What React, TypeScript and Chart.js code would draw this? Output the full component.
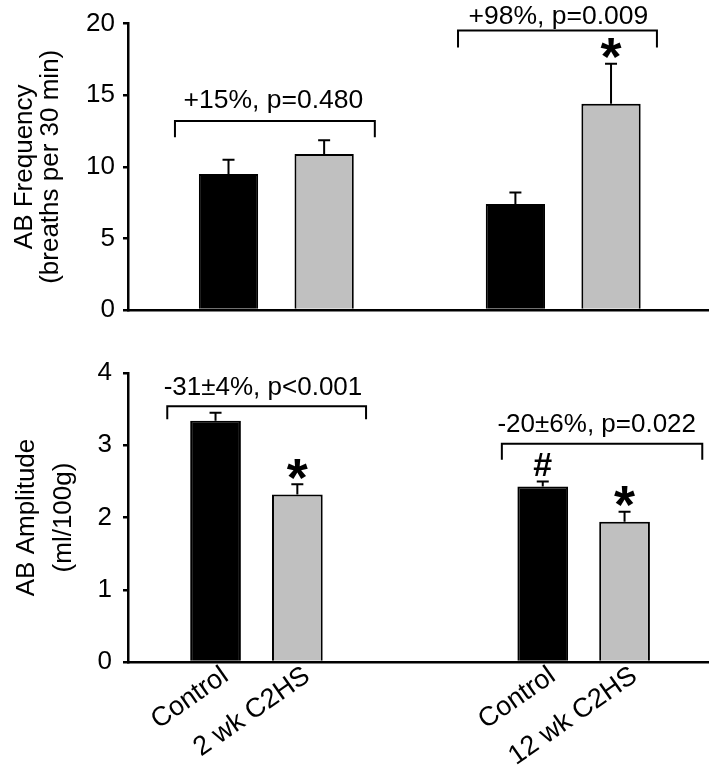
import React, { useEffect, useRef } from "react";
import { Chart, registerables } from "chart.js";

Chart.register(...registerables);

// ---------- data ----------
const groups = ["Control", "2 wk C2HS", "Control", "12 wk C2HS"];
const freqSlots = [1, 2, 4, 5];
const ampSlots = [1, 2, 5, 6];
const freqMeans = [9.5, 10.9, 7.4, 14.4];
const freqErrors = [1.0, 0.95, 0.8, 2.8];
const ampMeans = [3.34, 2.32, 2.43, 1.94];
const ampErrors = [0.11, 0.14, 0.07, 0.14];
const freqTicks = [0, 5, 10, 15, 20];
const ampTicks = [0, 1, 2, 3, 4];
const freqTitle = ["AB Frequency", "(breaths per 30 min)"];
const ampTitle = ["AB Amplitude", "(ml/100g)"];
const freqComparisons = ["+15%, p=0.480", "+98%, p=0.009"];
const ampComparisons = ["-31\u00b14%, p<0.001", "-20\u00b16%, p=0.022"];
const freqMarks = ["", "", "", "*"];
const ampMarks = ["", "*", "#", "*"];
const barColors = ["#000000", "#c0c0c0", "#000000", "#c0c0c0"];

// bracket geometry (data units)
const freqBrackets = [
  { x0: 0.44, x1: 2.53, y: 13.2, legY: 12.06, textX: 1.47, textY: 14.77 },
  { x0: 3.4, x1: 5.48, y: 19.51, legY: 18.33, textX: 4.45, textY: 20.66 },
];
const ampBrackets = [
  { x0: 0.41, x1: 2.84, y: 3.54, legY: 3.36, textX: 1.58, textY: 3.83 },
  { x0: 4.5, x1: 6.95, y: 3.02, legY: 2.8, textX: 5.66, textY: 3.31 },
];

const FONT = "'Liberation Sans', Arial, Helvetica, sans-serif";
Chart.defaults.font.family = FONT;
Chart.defaults.color = "#000";

const annotate = {
  id: "annotate",
  afterDatasetsDraw(chart: any, _args: any, opts: any) {
    const { ctx } = chart;
    const xs = chart.scales.x;
    const ys = chart.scales.y;
    const meta = chart.getDatasetMeta(0);
    ctx.save();
    ctx.strokeStyle = "#000";
    ctx.fillStyle = "#000";
    ctx.lineWidth = 2;
    // error bars + marks
    opts.means.forEach((m: number, i: number) => {
      const bar = meta.data[i];
      const top = ys.getPixelForValue(m + opts.errors[i]);
      ctx.beginPath();
      ctx.moveTo(bar.x, bar.y);
      ctx.lineTo(bar.x, top);
      ctx.moveTo(bar.x - 6, top);
      ctx.lineTo(bar.x + 6, top);
      ctx.stroke();
      const mark = opts.marks[i];
      if (mark === "*") {
        const size = 54;
        ctx.font = `bold ${size}px ${FONT}`;
        ctx.textAlign = "center";
        ctx.textBaseline = "alphabetic";
        ctx.fillText("*", bar.x, top - 13 + 0.455 * size);
      } else if (mark === "#") {
        const size = 34;
        ctx.font = `bold ${size}px ${FONT}`;
        ctx.textAlign = "center";
        ctx.textBaseline = "alphabetic";
        ctx.fillText("#", bar.x, top - 18 + 0.36 * size);
      }
    });
    // brackets
    opts.brackets.forEach((b: any, i: number) => {
      const x0 = xs.getPixelForValue(b.x0);
      const x1 = xs.getPixelForValue(b.x1);
      const y = ys.getPixelForValue(b.y);
      const ly = ys.getPixelForValue(b.legY);
      ctx.lineWidth = 2;
      ctx.beginPath();
      ctx.moveTo(x0, ly);
      ctx.lineTo(x0, y);
      ctx.lineTo(x1, y);
      ctx.lineTo(x1, ly);
      ctx.stroke();
      ctx.font = `${opts.textSize}px ${FONT}`;
      ctx.textAlign = "center";
      ctx.textBaseline = "alphabetic";
      ctx.fillText(
        opts.texts[i],
        xs.getPixelForValue(b.textX),
        ys.getPixelForValue(b.textY) + 0.358 * opts.textSize
      );
    });
    ctx.restore();
  },
};

function makeConfig(p: any): any {
  return {
    type: "bar",
    data: {
      datasets: [
        {
          data: p.slots.map((s: number, i: number) => ({ x: s, y: p.means[i] })),
          backgroundColor: barColors,
          borderColor: "#000",
          borderWidth: 2,
          barPercentage: 0.62,
          categoryPercentage: 1,
        },
      ],
    },
    options: {
      responsive: false,
      animation: false,
      events: [],
      layout: { padding: { top: p.padTop, right: 3, left: 0, bottom: 0 } },
      plugins: {
        legend: { display: false },
        tooltip: { enabled: false },
        annotate: {
          means: p.means,
          errors: p.errors,
          marks: p.marks,
          brackets: p.brackets,
          texts: p.texts,
          textSize: p.textSize,
        },
      },
      scales: {
        x: {
          type: "linear",
          offset: false,
          min: p.xMin,
          max: p.xMax,
          afterBuildTicks: (s: any) => {
            s.ticks = p.slots.map((v: number) => ({ value: v }));
          },
          afterFit: (s: any) => {
            s.height = p.xHeight;
          },
          grid: { display: false },
          border: { display: true, color: "#000", width: 2.5 },
          ticks: {
            display: p.showLabels,
            autoSkip: false,
            minRotation: 35,
            maxRotation: 35,
            padding: -10,
            labelOffset: 10,
            font: { size: 27 },
            color: "#000",
            callback: (v: number) => {
              const k = p.slots.indexOf(v);
              return k >= 0 ? groups[k] : "";
            },
          },
        },
        y: {
          min: 0,
          max: p.yTicks[p.yTicks.length - 1],
          afterBuildTicks: (s: any) => {
            s.ticks = p.yTicks.map((v: number) => ({ value: v }));
          },
          afterFit: (s: any) => {
            s.width = 128;
          },
          ticks: { padding: p.tickPad, font: { size: 26 }, color: "#000" },
          grid: {
            drawOnChartArea: false,
            drawTicks: true,
            tickLength: 5,
            color: "#000",
            lineWidth: 2.5,
          },
          border: { color: "#000", width: 2.5 },
          title: {
            display: true,
            text: p.title,
            color: "#000",
            font: { size: 26, lineHeight: p.titleLH },
            padding: { top: p.titlePad, bottom: 0 },
          },
        },
      },
    },
    plugins: [annotate],
  };
}

export default function App() {
  const topRef = useRef<HTMLCanvasElement>(null);
  const botRef = useRef<HTMLCanvasElement>(null);

  useEffect(() => {
    const top = new Chart(
      topRef.current as HTMLCanvasElement,
      makeConfig({
        slots: freqSlots,
        means: freqMeans,
        errors: freqErrors,
        marks: freqMarks,
        brackets: freqBrackets,
        texts: freqComparisons,
        textSize: 26.5,
        yTicks: freqTicks,
        title: freqTitle,
        titleLH: 1.0,
        titlePad: 12,
        tickPad: 8,
        padTop: 23,
        xHeight: 25,
        xMin: -0.051,
        xMax: 6.014,
        showLabels: false,
      })
    );
    const bot = new Chart(
      botRef.current as HTMLCanvasElement,
      makeConfig({
        slots: ampSlots,
        means: ampMeans,
        errors: ampErrors,
        marks: ampMarks,
        brackets: ampBrackets,
        texts: ampComparisons,
        textSize: 26,
        yTicks: ampTicks,
        title: ampTitle,
        titleLH: 1.42,
        titlePad: 8.5,
        tickPad: 11,
        padTop: 38,
        xHeight: 110,
        xMin: -0.07,
        xMax: 7.02,
        showLabels: true,
      })
    );
    return () => {
      top.destroy();
      bot.destroy();
    };
  }, []);

  return (
    <div
      style={{
        position: "absolute",
        left: 0,
        top: 0,
        width: 711,
        height: 772,
        background: "#fff",
      }}
    >
      <canvas
        ref={topRef}
        width={711}
        height={335}
        style={{ position: "absolute", left: 0, top: 0, width: 711, height: 335 }}
      />
      <canvas
        ref={botRef}
        width={711}
        height={437}
        style={{ position: "absolute", left: 0, top: 335, width: 711, height: 437 }}
      />
    </div>
  );
}
